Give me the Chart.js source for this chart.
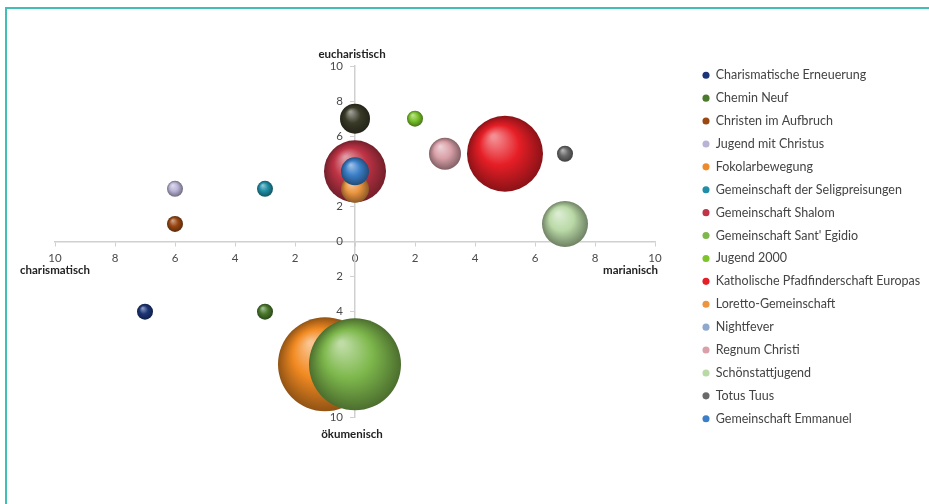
<!DOCTYPE html>
<html>
<head>
<meta charset="utf-8">
<script src="https://cdn.jsdelivr.net/npm/chart.js@4"></script>
<style>
  html, body { margin: 0; padding: 0; background: #fff; }
  #wrap { position: relative; width: 929px; height: 504px; }
  #rahmen { position: absolute; left: 5px; top: 7px; right: 0; bottom: 0;
            border-top: 2px solid #3fbfb6; border-left: 2px solid #3fbfb6; pointer-events: none; }
</style>
</head>
<body>
<div id="wrap">
  <canvas id="grafico"></canvas>
  <div id="rahmen"></div>
</div>
<script>
// Daten
const gruppen = [
  'Charismatische Erneuerung', 'Chemin Neuf', 'Christen im Aufbruch', 'Jugend mit Christus',
  'Fokolarbewegung', 'Gemeinschaft der Seligpreisungen', 'Gemeinschaft Shalom', "Gemeinschaft Sant' Egidio",
  'Jugend 2000', 'Katholische Pfadfinderschaft Europas', 'Loretto-Gemeinschaft', 'Nightfever',
  'Regnum Christi', 'Schönstattjugend', 'Totus Tuus', 'Gemeinschaft Emmanuel'
];
const xWerte = [-7, -3, -6, -6, -1, -3, 0, 0, 2, 5, 0, 0, 3, 7, 7, 0];
const yWerte = [-4, -4, 1, 3, -7, 3, 4, -7, 7, 5, 3, 7, 5, 1, 5, 4];
const groessen = [8, 8, 8, 8, 47, 8, 31, 46, 8, 38, 14, 15, 16, 23, 8, 14];
const achsenTitel = ['eucharistisch', 'ökumenisch', 'charismatisch', 'marianisch'];

// Farben
const farben = ['#1c3578', '#4a7a2c', '#9a4712', '#b9b4d6', '#f28a22', '#1f8ea6', '#bf3446', '#7eb84c',
  '#7cc42a', '#e61e26', '#eb9540', '#3a3a28', '#d9a0a8', '#b9d9a6', '#6a6a6a', '#3a7fc8'];
const legendenFarben = ['#1c3578', '#4a7a2c', '#9a4712', '#b9b4d6', '#ef8a2a', '#1f8ea6', '#bf3446', '#7eb84c',
  '#7cc42a', '#e61e26', '#eb9540', '#8fa9cc', '#d9a0a8', '#b9d9a6', '#6a6a6a', '#3a7fc8'];
const ebene = [0, 0, 0, 0, 2, 0, 2, 0, 0, 0, 1, 0, 0, 0, 0, 0];

const schrift = 'Lato, "Open Sans", sans-serif';

function mischen(hex, ziel, anteil) {
  const n = parseInt(hex.slice(1), 16);
  const r = (n >> 16) & 255, g = (n >> 8) & 255, b = n & 255;
  const m = c => Math.round(c + (ziel - c) * anteil);
  return 'rgb(' + m(r) + ',' + m(g) + ',' + m(b) + ')';
}

// Kugel-Effekt
function kugel(ctx) {
  const basis = farben[ctx.datasetIndex];
  if (ctx.type !== 'data' || !ctx.raw) return basis;
  const chart = ctx.chart;
  const cx = chart.scales.x.getPixelForValue(ctx.raw.x);
  const cy = chart.scales.y.getPixelForValue(ctx.raw.y);
  const r = ctx.raw.r;
  if (!Number.isFinite(cx) || !Number.isFinite(cy)) return basis;
  const g = chart.ctx.createRadialGradient(cx - r * 0.3, cy - r * 0.45, r * 0.05, cx, cy, r);
  g.addColorStop(0, mischen(basis, 255, 0.5));
  g.addColorStop(0.5, basis);
  g.addColorStop(1, mischen(basis, 0, 0.4));
  return g;
}

const achsenBeschriftung = {
  id: 'achsenBeschriftung',
  afterDraw(chart) {
    const { ctx, scales: { x, y } } = chart;
    ctx.save();
    ctx.font = 'bold 11.5px ' + schrift;
    ctx.fillStyle = '#222';
    ctx.textBaseline = 'middle';
    ctx.textAlign = 'center';
    ctx.fillText(achsenTitel[0], x.getPixelForValue(0) - 3, y.getPixelForValue(10) - 12);
    ctx.fillText(achsenTitel[1], x.getPixelForValue(0) - 3, y.getPixelForValue(-10) + 17);
    ctx.fillText(achsenTitel[2], x.getPixelForValue(-10), y.getPixelForValue(0) + 29);
    ctx.textAlign = 'right';
    ctx.fillText(achsenTitel[3], x.getPixelForValue(10) + 3, y.getPixelForValue(0) + 29);
    ctx.restore();
  }
};

const randSkala = (pos, groesse) => ({
  type: 'linear', position: pos, display: true,
  ticks: { display: false }, grid: { display: false }, border: { display: false },
  afterFit: s => { if (pos === 'right') s.width = groesse; else s.height = groesse; }
});

const tickSchrift = { family: schrift, size: 11.5 };

document.addEventListener('DOMContentLoaded', function () {
  const grafico = document.getElementById('grafico');
  new Chart(grafico, {
    type: 'bubble',
    data: {
      datasets: gruppen.map((name, i) => ({
        label: name,
        data: [{ x: xWerte[i], y: yWerte[i], r: groessen[i] }],
        backgroundColor: kugel,
        borderWidth: 0,
        order: ebene[i]
      }))
    },
    options: {
      responsive: true,
      maintainAspectRatio: false,
      animation: false,
      layout: { padding: { left: 55, top: 0, right: 0, bottom: 10 } },
      plugins: {
        tooltip: { enabled: false },
        legend: {
          position: 'right',
          align: 'center',
          maxWidth: 236.9,
          labels: {
            usePointStyle: true,
            boxWidth: 7,
            boxHeight: 5,
            padding: 10.4,
            color: '#444',
            font: { family: schrift, size: 12.5 },
            sort: (a, b) => a.datasetIndex - b.datasetIndex,
            generateLabels: chart => chart.data.datasets.map((ds, i) => ({
              text: ds.label,
              fillStyle: legendenFarben[i],
              strokeStyle: legendenFarben[i],
              lineWidth: 0,
              pointStyle: 'circle',
              fontColor: '#444',
              hidden: !chart.isDatasetVisible(i),
              datasetIndex: i
            }))
          }
        }
      },
      scales: {
        x: {
          type: 'linear', min: -10, max: 10, position: { y: 0 },
          ticks: { stepSize: 2, callback: v => Math.abs(v), padding: 6, color: '#4a4a4a', font: tickSchrift },
          grid: { display: true, drawOnChartArea: false, tickLength: 4, color: '#d0d0d0' },
          border: { color: '#d0d0d0', width: 1.5 }
        },
        y: {
          type: 'linear', min: -10, max: 10, position: { x: 0 },
          ticks: { stepSize: 2, display: false },
          grid: { display: true, drawOnChartArea: false, tickLength: 4, color: '#d0d0d0' },
          border: { color: '#d0d0d0', width: 1.5 }
        },
        // Beschriftung der y-Achse, leicht links der Achse und über den Blasen
        yBeschriftung: {
          type: 'linear', axis: 'y', min: -10, max: 10, position: { x: -0.4 }, z: 1,
          ticks: { stepSize: 2, callback: v => Math.abs(v), color: '#4a4a4a', font: tickSchrift },
          grid: { display: false },
          border: { display: false }
        },
        randOben: randSkala('top', 66),
        randUnten: randSkala('bottom', 77),
        randRechts: randSkala('right', 37.1)
      }
    },
    plugins: [achsenBeschriftung]
  });
});
</script>
</body>
</html>
